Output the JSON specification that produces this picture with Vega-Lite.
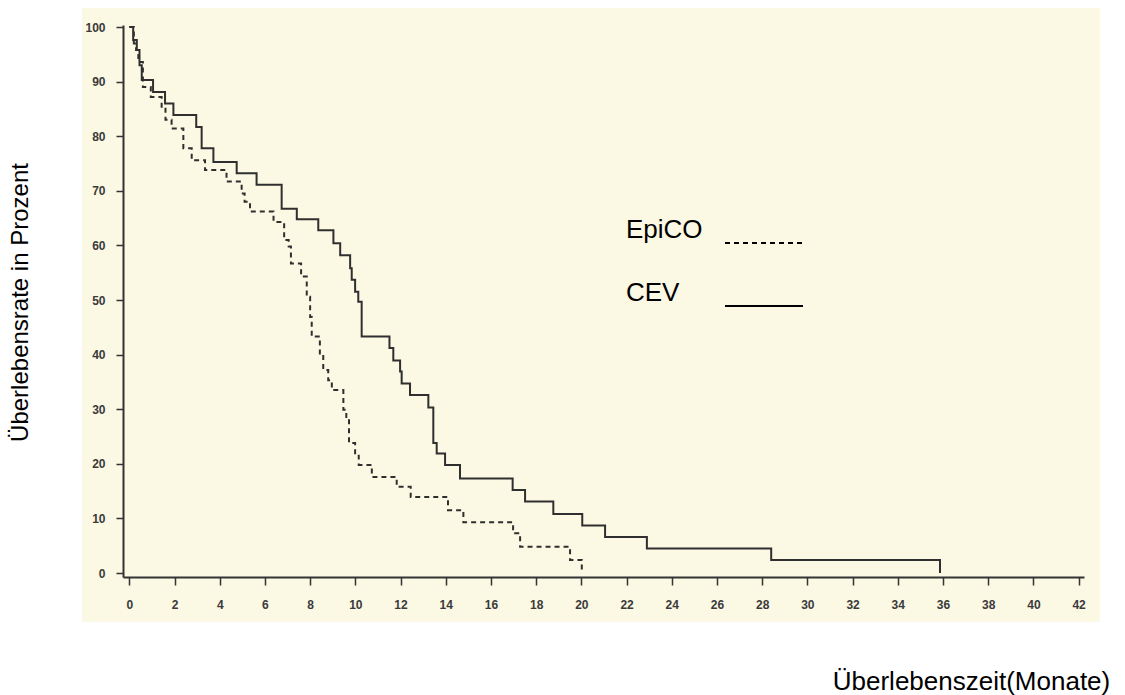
{
  "$schema": "https://vega.github.io/schema/vega-lite/v6.json",
  "width": 961,
  "height": 552,
  "autosize": {"type": "none"},
  "padding": {"left": 123, "top": 25, "right": 41, "bottom": 118},
  "background": "#ffffff",
  "config": {
    "view": {"stroke": null},
    "font": "Liberation Sans",
    "axis": {
      "grid": false,
      "domainColor": "#333333",
      "domainWidth": 2,
      "tickColor": "#333333",
      "tickWidth": 1.5,
      "labelFont": "Liberation Sans",
      "labelFontSize": 12,
      "labelFontWeight": "bold",
      "labelColor": "#3a3a3a",
      "titleFont": "Liberation Sans",
      "titleFontWeight": "normal",
      "titleColor": "#000000"
    }
  },
  "datasets": {
    "panel": [{"x0": -2.09, "x1": 42.95, "y0": -8.97, "y1": 103.5}],
    "survival": [
      {"group": "CEV", "month": 0, "rate": 100},
      {"group": "CEV", "month": 0.17, "rate": 97.6},
      {"group": "CEV", "month": 0.33, "rate": 95.8},
      {"group": "CEV", "month": 0.45, "rate": 93},
      {"group": "CEV", "month": 0.55, "rate": 90.3},
      {"group": "CEV", "month": 1.05, "rate": 88.1},
      {"group": "CEV", "month": 1.58, "rate": 86},
      {"group": "CEV", "month": 1.95, "rate": 83.9},
      {"group": "CEV", "month": 2.96, "rate": 81.7},
      {"group": "CEV", "month": 3.2, "rate": 77.8},
      {"group": "CEV", "month": 3.72, "rate": 75.3},
      {"group": "CEV", "month": 4.75, "rate": 73.2},
      {"group": "CEV", "month": 5.63, "rate": 71.1},
      {"group": "CEV", "month": 6.74, "rate": 66.7},
      {"group": "CEV", "month": 7.41, "rate": 64.8},
      {"group": "CEV", "month": 8.36, "rate": 62.8},
      {"group": "CEV", "month": 9.03, "rate": 60.4},
      {"group": "CEV", "month": 9.33, "rate": 58.2},
      {"group": "CEV", "month": 9.77, "rate": 55.8},
      {"group": "CEV", "month": 9.84, "rate": 53.7},
      {"group": "CEV", "month": 9.99, "rate": 51.5},
      {"group": "CEV", "month": 10.13, "rate": 49.7},
      {"group": "CEV", "month": 10.28, "rate": 43.3},
      {"group": "CEV", "month": 11.51, "rate": 41.2},
      {"group": "CEV", "month": 11.68, "rate": 38.9},
      {"group": "CEV", "month": 11.98, "rate": 36.9},
      {"group": "CEV", "month": 12.05, "rate": 34.7},
      {"group": "CEV", "month": 12.42, "rate": 32.6},
      {"group": "CEV", "month": 13.23, "rate": 30.3},
      {"group": "CEV", "month": 13.45, "rate": 23.8},
      {"group": "CEV", "month": 13.6, "rate": 21.9},
      {"group": "CEV", "month": 13.97, "rate": 19.8},
      {"group": "CEV", "month": 14.63, "rate": 17.3},
      {"group": "CEV", "month": 16.96, "rate": 15.2},
      {"group": "CEV", "month": 17.51, "rate": 13.1},
      {"group": "CEV", "month": 18.76, "rate": 10.8},
      {"group": "CEV", "month": 20.04, "rate": 8.7},
      {"group": "CEV", "month": 21.05, "rate": 6.6},
      {"group": "CEV", "month": 22.9, "rate": 4.5},
      {"group": "CEV", "month": 28.4, "rate": 2.4},
      {"group": "CEV", "month": 35.87, "rate": 0},
      {"group": "EpiCO", "month": 0, "rate": 100},
      {"group": "EpiCO", "month": 0.2, "rate": 97},
      {"group": "EpiCO", "month": 0.3, "rate": 95.8},
      {"group": "EpiCO", "month": 0.4, "rate": 93.6},
      {"group": "EpiCO", "month": 0.6, "rate": 89},
      {"group": "EpiCO", "month": 0.95, "rate": 87.2},
      {"group": "EpiCO", "month": 1.43, "rate": 85.4},
      {"group": "EpiCO", "month": 1.6, "rate": 83},
      {"group": "EpiCO", "month": 1.87, "rate": 81.4},
      {"group": "EpiCO", "month": 2.39, "rate": 77.8},
      {"group": "EpiCO", "month": 2.76, "rate": 75.6},
      {"group": "EpiCO", "month": 3.35, "rate": 73.8},
      {"group": "EpiCO", "month": 4.3, "rate": 71.7},
      {"group": "EpiCO", "month": 4.97, "rate": 69.5},
      {"group": "EpiCO", "month": 5.1, "rate": 68},
      {"group": "EpiCO", "month": 5.34, "rate": 66.2},
      {"group": "EpiCO", "month": 6.38, "rate": 64.3},
      {"group": "EpiCO", "month": 6.85, "rate": 61},
      {"group": "EpiCO", "month": 7.05, "rate": 59.8},
      {"group": "EpiCO", "month": 7.15, "rate": 56.7},
      {"group": "EpiCO", "month": 7.6, "rate": 54.3},
      {"group": "EpiCO", "month": 7.85, "rate": 50.6},
      {"group": "EpiCO", "month": 8.0, "rate": 46.9},
      {"group": "EpiCO", "month": 8.07, "rate": 43.3},
      {"group": "EpiCO", "month": 8.43, "rate": 40.2},
      {"group": "EpiCO", "month": 8.58, "rate": 37.2},
      {"group": "EpiCO", "month": 8.8, "rate": 35.3},
      {"group": "EpiCO", "month": 8.96, "rate": 33.5},
      {"group": "EpiCO", "month": 9.47, "rate": 29.9},
      {"group": "EpiCO", "month": 9.6, "rate": 28.3},
      {"group": "EpiCO", "month": 9.72, "rate": 23.8},
      {"group": "EpiCO", "month": 9.99, "rate": 21.5},
      {"group": "EpiCO", "month": 10.15, "rate": 19.8},
      {"group": "EpiCO", "month": 10.73, "rate": 17.6},
      {"group": "EpiCO", "month": 11.83, "rate": 15.8},
      {"group": "EpiCO", "month": 12.45, "rate": 13.9},
      {"group": "EpiCO", "month": 14.1, "rate": 11.5},
      {"group": "EpiCO", "month": 14.78, "rate": 9.3},
      {"group": "EpiCO", "month": 16.98, "rate": 7.3},
      {"group": "EpiCO", "month": 17.29, "rate": 4.8},
      {"group": "EpiCO", "month": 19.5, "rate": 2.4},
      {"group": "EpiCO", "month": 20.02, "rate": 0}
    ]
  },
  "layer": [
    {
      "data": {"name": "panel"},
      "mark": {"type": "rect", "color": "#fbf8e4"},
      "encoding": {
        "x": {
          "field": "x0", "type": "quantitative",
          "scale": {"domain": [-0.28, 42.24], "nice": false, "zero": false},
          "axis": {
            "zindex": 1,
            "values": [0,2,4,6,8,10,12,14,16,18,20,22,24,26,28,30,32,34,36,38,40,42],
            "tickSize": 8, "labelPadding": 14,
            "title": "Überlebenszeit(Monate)",
            "titleFontSize": 26, "titleX": 848, "titleY": 104,
            "titleAlign": "center", "titleBaseline": "middle"
          }
        },
        "x2": {"field": "x1"},
        "y": {
          "field": "y0", "type": "quantitative",
          "scale": {"domain": [-0.73, 100.37], "nice": false, "zero": false},
          "axis": {
            "zindex": 1,
            "values": [0,10,20,30,40,50,60,70,80,90,100],
            "tickSize": 7, "labelPadding": 11,
            "title": "Überlebensrate in Prozent",
            "titleFontSize": 24, "titleX": -103, "titleY": 277,
            "titleAlign": "center", "titleBaseline": "middle", "titleAngle": 270
          }
        },
        "y2": {"field": "y1"}
      }
    },
    {
      "data": {"name": "survival"},
      "mark": {"type": "line", "interpolate": "step-after", "strokeWidth": 2, "color": "#2f2f2f"},
      "encoding": {
        "x": {
          "field": "month", "type": "quantitative",
          "scale": {"domain": [-0.28, 42.24], "nice": false, "zero": false},
          "axis": {
            "zindex": 1,
            "values": [0,2,4,6,8,10,12,14,16,18,20,22,24,26,28,30,32,34,36,38,40,42],
            "tickSize": 8, "labelPadding": 14,
            "title": "Überlebenszeit(Monate)",
            "titleFontSize": 26, "titleX": 848, "titleY": 104,
            "titleAlign": "center", "titleBaseline": "middle"
          }
        },
        "y": {
          "field": "rate", "type": "quantitative",
          "scale": {"domain": [-0.73, 100.37], "nice": false, "zero": false},
          "axis": {
            "zindex": 1,
            "values": [0,10,20,30,40,50,60,70,80,90,100],
            "tickSize": 7, "labelPadding": 11,
            "title": "Überlebensrate in Prozent",
            "titleFontSize": 24, "titleX": -103, "titleY": 277,
            "titleAlign": "center", "titleBaseline": "middle", "titleAngle": 270
          }
        },
        "strokeDash": {
          "field": "group", "type": "nominal",
          "scale": {"domain": ["EpiCO", "CEV"], "range": [[5, 4], [1, 0]]},
          "legend": {
            "orient": "none", "legendX": 601, "legendY": 178,
            "title": null, "padding": 0,
            "symbolType": "stroke", "symbolSize": 6084, "symbolStrokeWidth": 2,
            "symbolStrokeColor": "#000000", "symbolOffset": 0,
            "labelFont": "Liberation Sans", "labelFontSize": 26, "labelColor": "#000000",
            "labelOffset": -178, "labelAlign": "left", "labelBaseline": "bottom",
            "rowPadding": 19
          }
        }
      }
    }
  ]
}
